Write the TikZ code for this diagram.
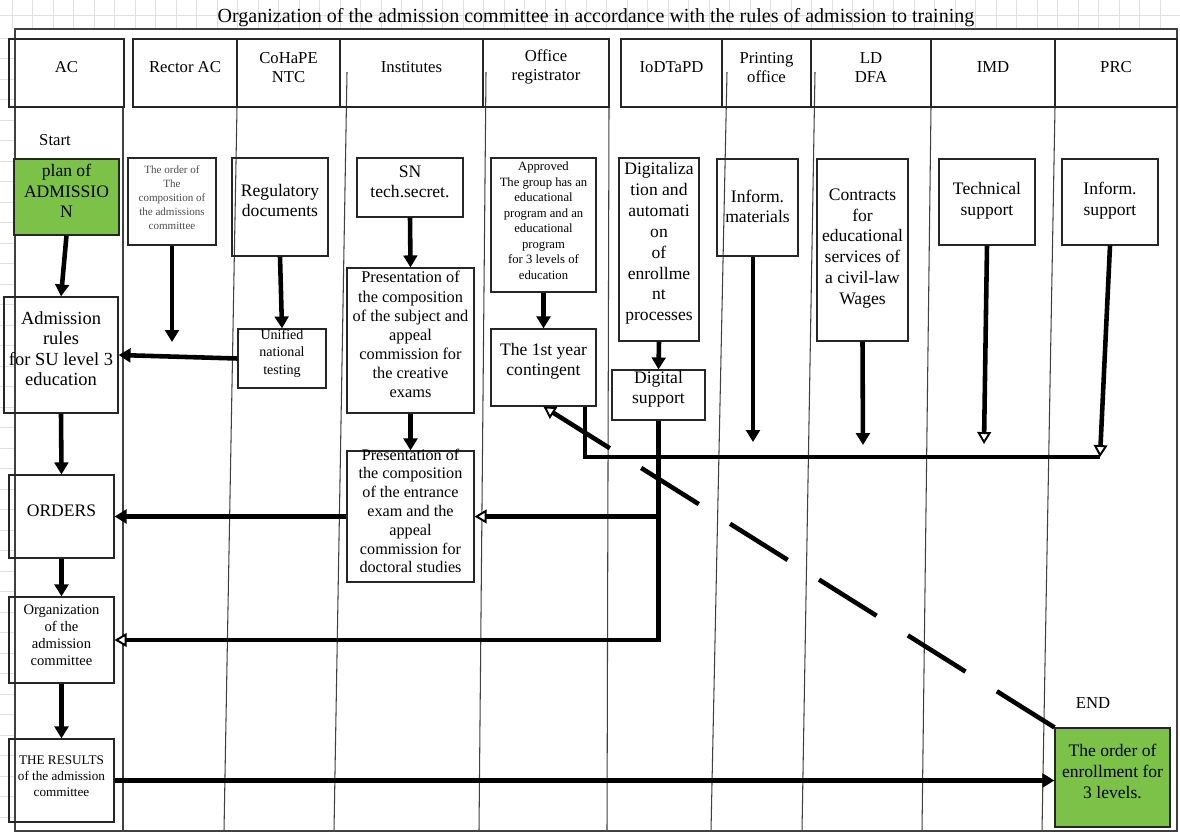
\documentclass[tikz,border=0pt]{standalone}
\usepackage{fontspec}
\setmainfont{Liberation Serif}
\usetikzlibrary{arrows.meta,fit,calc}
\definecolor{planGreen}{RGB}{124,194,72}
\definecolor{gridGray}{RGB}{224,224,224}
\begin{document}
\begin{tikzpicture}[x=0.02cm,y=-0.02cm,
  box/.style={draw=black!85,line width=0.7pt,inner sep=0pt,align=center},
  hdr/.style={box,font=\fontsize{9.5}{10.8}\selectfont},
  tx/.style={font=\fontsize{10}{11.8}\selectfont},
  lane/.style={black!75,line width=0.6pt},
  flow/.style={line width=2.6pt,-{Triangle[width=7.8pt,length=6.8pt]}},
  oflow/.style={line width=2.6pt,-{Triangle[width=7.8pt,length=6.8pt,fill=white,line width=1.1pt]}},
  busline/.style={line width=2.8pt},
  gridline/.style={gridGray,line width=0.5pt}]
\useasboundingbox (0,0) rectangle (1180,833);
% spreadsheet grid in the margins
\foreach \i in {0,...,57} \draw[gridline] ({12+20.5*\i},0) -- ({12+20.5*\i},29);
\draw[gridline] (0,15) -- (1180,15);
\foreach \i in {0,...,38} \draw[gridline] (0,{38+20.5*\i}) -- (15,{38+20.5*\i});
% title
\node[font=\fontsize{11.4}{13}\selectfont] (title) at (596,18) {Organization of the admission committee in accordance with the rules of admission to training};
% frame and swimlanes
\draw[lane,line width=0.8pt] (15,29) rectangle (1177,831);
\draw[lane] (123,107) -- (123,831);
\draw[lane] (237,107) -- (224,831);
\draw[lane] (347,72) -- (334,831);
\draw[lane] (486,72) -- (479,831);
\draw[lane] (609,107) -- (607,831);
\draw[lane] (727,72) -- (711,831);
\draw[lane] (815,72) -- (802,831);
\draw[lane] (931,107) -- (922,831);
\draw[lane] (1055,107) -- (1042,831);
% headers
\node[hdr,fit={(9,39) (124,107)}] (hAC) {AC};
\node[hdr,fit={(133,39) (237,107)}] (hRector) {Rector AC};
\node[hdr,fit={(237,39) (340,107)}] (hCo) {CoHaPE\\NTC};
\node[hdr,fit={(340,39) (483,107)}] (hInst) {Institutes};
\node[hdr,fit={(483,39) (609,107)}] (hOff) {Office\\registrator};
\node[hdr,fit={(621,39) (722,107)}] (hIo) {IoDTaPD};
\node[hdr,fit={(722,39) (811,107)}] (hPr) {Printing\\office};
\node[hdr,fit={(811,39) (931,107)}] (hLD) {LD\\DFA};
\node[hdr,fit={(931,39) (1055,107)}] (hIMD) {IMD};
\node[hdr,fit={(1055,39) (1177,107)}] (hPRC) {PRC};
% AC column
\node[font=\fontsize{9.5}{11}\selectfont] (start) at (55,140) {Start};
\node[box,fill=planGreen,fit={(14,159) (119,235)},font=\fontsize{10}{11.8}\selectfont] (plan) {plan of\\ADMISSIO\\N};
\node[box,fit={(4,297) (118,413)},font=\fontsize{10.5}{11.7}\selectfont] (adm) {Admission\\rules\\for SU level 3\\education};
\node[box,fit={(9,475) (114,558)},font=\fontsize{10}{11.8}\selectfont] (orders) {ORDERS};
\node[box,fit={(9,597) (114,683)},font=\fontsize{8.3}{9.8}\selectfont] (org) {Organization\\of the\\admission\\committee};
\node[box,fit={(9,739) (114,822)},font=\fontsize{7.5}{9}\selectfont] (res) {THE RESULTS\\of the admission\\committee};
% Rector column
\node[box,fit={(128,158) (216,245)},font=\fontsize{6.3}{7.9}\selectfont,text=black!70] (rector) {The order of\\The\\composition of\\the admissions\\committee};
% CoHaPE column
\node[box,fit={(232,158) (328,256)},font=\fontsize{10}{11.3}\selectfont] (reg) {Regulatory\\documents};
\node[box,fit={(238,329) (326,388)},font=\fontsize{8}{9.8}\selectfont] (uni) {Unified\\national\\testing};
% Institutes column
\node[box,fit={(357,158) (463,217)},font=\fontsize{10}{11.3}\selectfont] (sn) {SN\\tech.secret.};
\node[box,fit={(347,268) (474,413)},font=\fontsize{9.3}{10.9}\selectfont] (pres1) {Presentation of\\the composition\\of the subject and\\appeal\\commission for\\the creative\\exams};
\node[box,fit={(347,451) (474,582)},font=\fontsize{9.2}{10.7}\selectfont] (pres2) {Presentation of\\the composition\\of the entrance\\exam and the\\appeal\\commission for\\doctoral studies};
% Office column
\node[box,fit={(491,158) (596,292)},font=\fontsize{7.2}{8.8}\selectfont] (appr) {Approved\\The group has an\\educational\\program and an\\educational\\program\\for 3 levels of\\education};
\node[box,fit={(491,329) (596,406)},font=\fontsize{10}{11.3}\selectfont] (first) {The 1st year\\contingent};
% IoDTaPD column
\node[box,fit={(619,158) (699,341)},font=\fontsize{10}{11.9}\selectfont] (dig) {Digitaliza\\tion and\\automati\\on\\of\\enrollme\\nt\\processes};
\node[box,fit={(612,370) (705,420)},font=\fontsize{10}{11.3}\selectfont] (dsup) {Digital\\support};
% right columns (text in the upper part of the boxes)
\node[box,fit={(717,159) (798,256)},label={[tx,align=center,anchor=center,yshift=-0.96cm]north:{Inform.\\materials}}] (im) {};
\node[box,fit={(817,159) (908,341)},label={[tx,align=center,anchor=center,yshift=-1.8cm]north:{Contracts\\for\\educational\\services of\\a civil-law\\Wages}}] (ct) {};
\node[box,fit={(939,159) (1035,245)},label={[tx,align=center,anchor=center,yshift=-0.85cm]north:{Technical\\support}}] (tech) {};
\node[box,fit={(1062,159) (1158,245)},label={[tx,align=center,anchor=center,yshift=-0.85cm]north:{Inform.\\support}}] (isup) {};
% end
\node[font=\fontsize{9.5}{11}\selectfont] (endlbl) at (1093,703) {END};
\node[box,fill=planGreen,fit={(1055,728) (1170,827)},font=\fontsize{10}{11.8}\selectfont] (endbox) {The order of\\enrollment for\\3 levels.};
% free ends and junctions
\coordinate (rectorEnd) at (172,342);
\coordinate (imEnd) at (753,442);
\coordinate (ctEnd) at (863,445);
\coordinate (techEnd) at (984,444);
\coordinate (bus1) at (585,457);
\coordinate (bus2) at (1100,457);
% connectors
\draw[flow] (plan.south) -- (adm.north);
\draw[flow] (adm.south) -- (orders.north);
\draw[flow] (orders.south) -- (org.north);
\draw[flow] (org.south) -- (res.north);
\draw[flow] (rector.south) -- (rectorEnd);
\draw[flow] (reg.south) -- (uni.north);
\draw[flow] (uni.west) -- (adm.east);
\draw[flow] (sn.south) -- (pres1.north);
\draw[flow] (pres1.south) -- (pres2.north);
\draw[flow] (pres2.west) -- (pres2.west -| orders.east);
\draw[flow] (appr.south) -- (first.north);
\draw[flow] (dig.south) -- (dsup.north);
\draw[oflow] (dsup.south) -- (dsup.south |- org.east) -- (org.east);
\coordinate (dj) at (dsup.south |- pres2.east);
\draw[oflow] (dj) -- (pres2.east);
\draw[busline] (first.south -| bus1) -- (bus1) -- (bus2);
\draw[flow] (im.south -| imEnd) -- (imEnd);
\draw[flow] (ct.south) -- (ctEnd);
\draw[oflow] (tech.south) -- (techEnd);
\draw[oflow] (isup.south) -- (bus2);
\draw[flow] (res.east) -- (res.east -| endbox.west);
\draw[oflow,dash pattern=on 1.36cm off 0.74cm] (endbox.north west) -- (first.south);
\end{tikzpicture}
\end{document}
